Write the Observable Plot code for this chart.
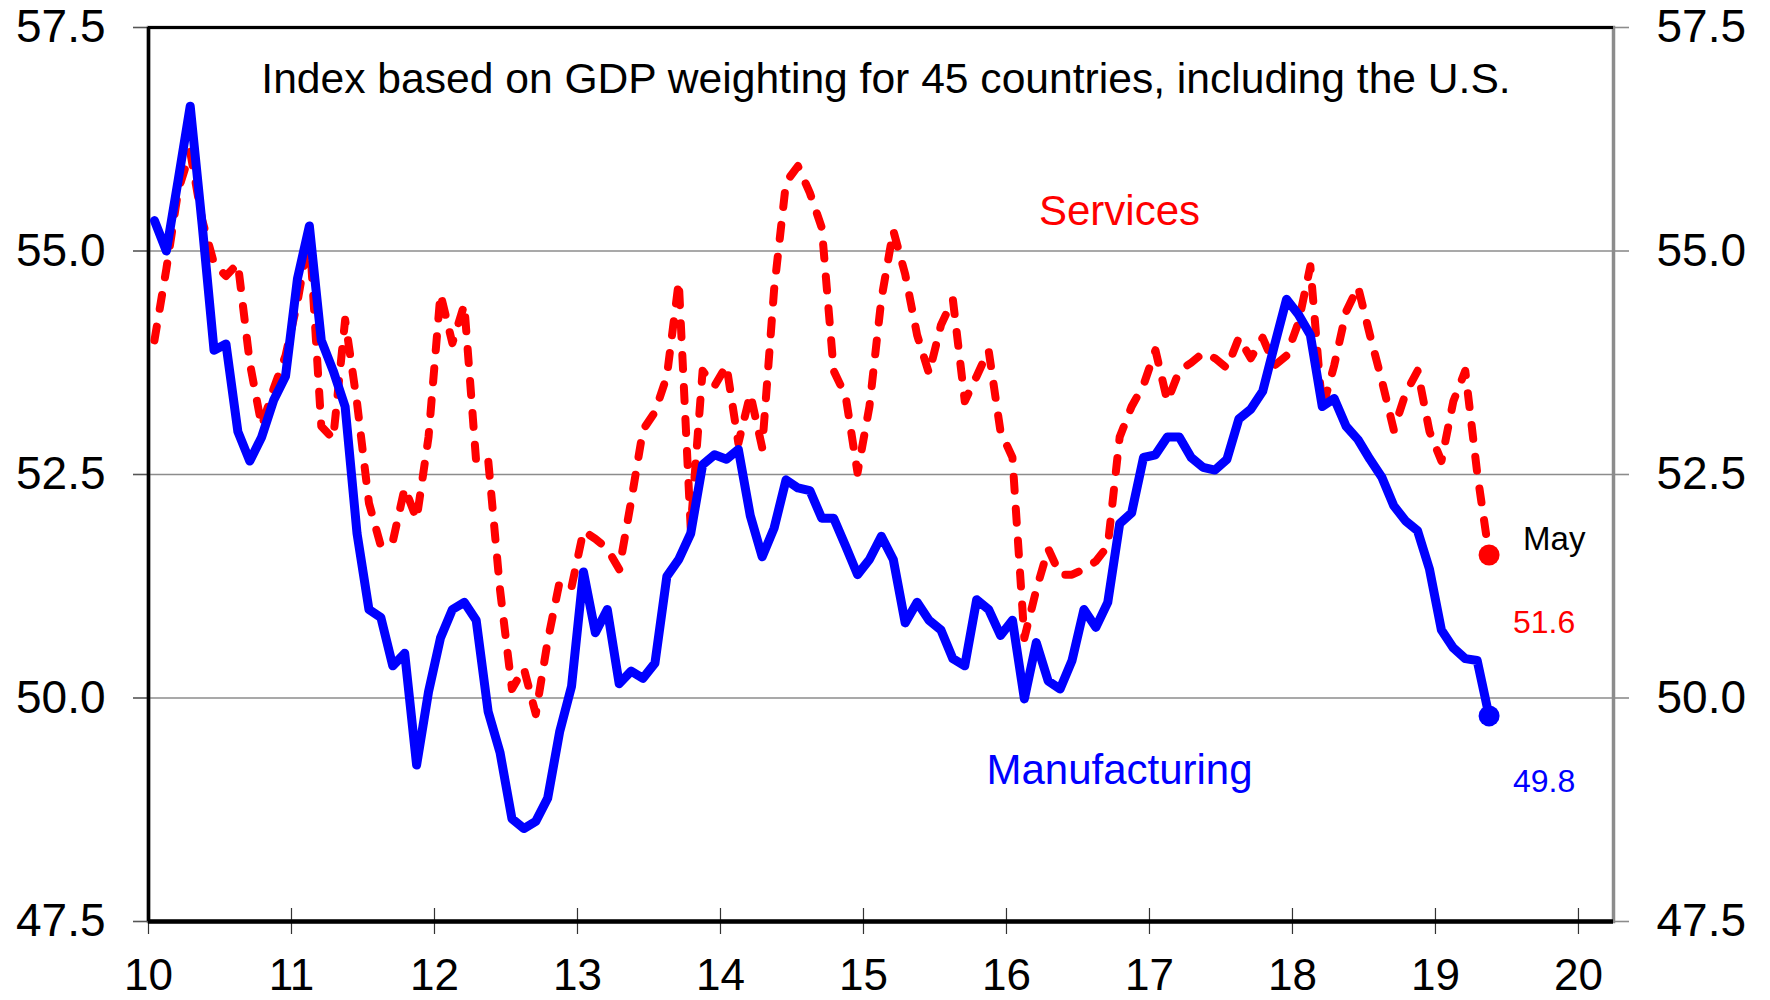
<!DOCTYPE html>
<html>
<head>
<meta charset="utf-8">
<script src="https://cdn.jsdelivr.net/npm/d3@7"></script>
<script src="https://cdn.jsdelivr.net/npm/@observablehq/plot@0.6"></script>
<style>
  html, body { margin: 0; padding: 0; background: #fff; }
  #chart { width: 1770px; height: 1000px; }
</style>
</head>
<body>
<div id="chart"></div>
<script>
// ---- Data (monthly, Jan 2010 .. May 2019) ----
const startYear = 2010;
const manufacturing = [
  55.34, 55.0, 55.8, 56.62, 55.3, 53.89, 53.96, 52.98, 52.65, 52.92, 53.33, 53.6,
  54.69, 55.28, 54.0, 53.66, 53.26, 51.84, 50.99, 50.9, 50.36, 50.5, 49.25, 50.07,
  50.67, 50.99, 51.07, 50.87, 49.85, 49.39, 48.65, 48.54, 48.62, 48.88, 49.62, 50.13,
  51.41, 50.73, 50.99, 50.16, 50.3, 50.22, 50.39, 51.36, 51.55, 51.84, 52.61, 52.72,
  52.67, 52.78, 52.04, 51.58, 51.9, 52.44, 52.35, 52.32, 52.01, 52.01, 51.7, 51.38,
  51.55, 51.81, 51.55, 50.84, 51.07, 50.87, 50.76, 50.44, 50.36, 51.1, 50.99, 50.7,
  50.87, 49.99, 50.62, 50.19, 50.1, 50.42, 50.99, 50.79, 51.07, 51.95, 52.07, 52.69,
  52.72, 52.92, 52.92, 52.69, 52.58, 52.55, 52.67, 53.12, 53.23, 53.43, 53.95, 54.46,
  54.29, 54.06, 53.26, 53.35, 53.04, 52.89, 52.67, 52.47, 52.15, 51.98, 51.87, 51.44,
  50.76, 50.56, 50.44, 50.42, 49.8
];
const services = [
  54.0, 54.8, 55.68, 56.11, 55.35, 54.86, 54.72, 54.86, 53.75, 53.04, 53.46, 53.83,
  54.43, 55.2, 53.04, 52.9, 54.23, 53.3, 52.18, 51.7, 51.75, 52.35, 52.0, 52.92,
  54.52, 53.97, 54.4, 52.64, 52.67, 51.21, 50.1, 50.33, 49.82, 50.64, 51.3, 51.24,
  51.87, 51.78, 51.67, 51.44, 52.2, 53.0, 53.2, 53.6, 54.66, 51.9, 53.66, 53.49,
  53.72, 52.85, 53.4, 52.8, 54.57, 55.77, 55.95, 55.65, 55.26, 53.66, 53.38, 52.52,
  53.26, 54.46, 55.23, 54.74, 54.06, 53.63, 54.17, 54.46, 53.32, 53.6, 53.89, 52.98,
  52.69, 50.67, 51.21, 51.67, 51.38, 51.38, 51.44, 51.53, 51.7, 52.92, 53.26, 53.5,
  53.89, 53.32, 53.66, 53.75, 53.86, 53.8, 53.69, 54.03, 53.8, 54.03, 53.72, 53.83,
  54.2, 54.83, 53.23, 53.72, 54.32, 54.6, 54.06, 53.55, 53.0, 53.41, 53.66, 52.98,
  52.65, 53.32, 53.66, 52.52, 51.6
];
const xTickValues = [2010, 2011, 2012, 2013, 2014, 2015, 2016, 2017, 2018, 2019, 2020];
const xTickLabels = ["10", "11", "12", "13", "14", "15", "16", "17", "18", "19", "20"];
const yTickValues = [47.5, 50, 52.5, 55, 57.5];
const titleText = "Index based on GDP weighting for 45 countries, including the U.S.";
const seriesNames = ["Manufacturing", "Services"];
const latestMonth = "May";

// ---- Build tables ----
const toRows = arr => arr.map((v, i) => ({ t: startYear + (i + 0.5) / 12, v }));
const mfgRows = toRows(manufacturing);
const svcRows = toRows(services);
const lastMfg = mfgRows[mfgRows.length - 1];
const lastSvc = svcRows[svcRows.length - 1];
const xLabel = new Map(xTickValues.map((v, i) => [v, xTickLabels[i]]));

const BLUE = "#0000FF", RED = "#FF0000", GRID = "#8c8c8c";
const FONT = "'Liberation Sans', Arial, Helvetica, sans-serif";

const chart = Plot.plot({
  width: 1770,
  height: 1000,
  marginLeft: 148,
  marginRight: 157,
  marginTop: 27,
  marginBottom: 79,
  style: { fontFamily: FONT, background: "white", color: "black", overflow: "visible" },
  x: { domain: [2010, 2020.245] },
  y: { domain: [47.5, 57.5] },
  marks: [
    Plot.gridY(yTickValues, { stroke: GRID, strokeOpacity: 1, strokeWidth: 1.6 }),
    Plot.frame({ stroke: GRID, strokeWidth: 3.5 }),
    // left axis
    Plot.axisY(yTickValues, {
      anchor: "left", tickSize: 15, tickPadding: 28, fontSize: 46,
      tickFormat: d3.format(".1f"), stroke: "#555", strokeWidth: 1.6, label: null
    }),
    // right axis
    Plot.axisY(yTickValues, {
      anchor: "right", tickSize: 15, tickPadding: 28, fontSize: 46,
      tickFormat: d3.format(".1f"), stroke: GRID, strokeWidth: 1.6, label: null
    }),
    // bottom axis (ticks below) + inner tick halves
    Plot.axisX(xTickValues, {
      anchor: "bottom", tickSize: 13, tickPadding: 24, fontSize: 44,
      tickFormat: d => xLabel.get(d), stroke: "#333", strokeWidth: 1.2, label: null
    }),
    Plot.tickX(xTickValues, { x: d => d, insetTop: 881, stroke: "#333", strokeWidth: 1.2 }),
    // black frame sides
    Plot.ruleX([xTickValues[0]], { stroke: "black", strokeWidth: 3.5 }),
    Plot.ruleY([yTickValues[0]], { stroke: "black", strokeWidth: 4.5 }),
    Plot.ruleY([yTickValues[yTickValues.length - 1]], { stroke: "black", strokeWidth: 3 }),
    // series
    Plot.lineY(svcRows, {
      x: "t", y: "v", stroke: RED, strokeWidth: 8,
      strokeDasharray: "14,18", strokeLinecap: "round", strokeLinejoin: "round"
    }),
    Plot.lineY(mfgRows, {
      x: "t", y: "v", stroke: BLUE, strokeWidth: 9,
      strokeLinecap: "round", strokeLinejoin: "round"
    }),
    Plot.dot([lastSvc], { x: "t", y: "v", r: 10.5, fill: RED }),
    Plot.dot([lastMfg], { x: "t", y: "v", r: 10.5, fill: BLUE }),
    // end labels
    Plot.text([lastSvc], {
      x: "t", y: "v", text: () => latestMonth, dx: 34, dy: -16,
      textAnchor: "start", fill: "black", fontSize: 33
    }),
    Plot.text([lastSvc], {
      x: "t", y: "v", text: d => d.v.toFixed(1), dx: 55, dy: 68,
      fill: RED, fontSize: 32
    }),
    Plot.text([lastMfg], {
      x: "t", y: "v", text: d => d.v.toFixed(1), dx: 55, dy: 66,
      fill: BLUE, fontSize: 32
    }),
    // title and series labels
    Plot.text([titleText], {
      frameAnchor: "top", dx: 5, dy: 52, lineAnchor: "middle",
      fill: "black", fontSize: 42.6
    }),
    Plot.text([seriesNames[1]], {
      frameAnchor: "top-left", dx: 971, dy: 184, lineAnchor: "middle",
      textAnchor: "middle", fill: RED, fontSize: 42
    }),
    Plot.text([seriesNames[0]], {
      frameAnchor: "top-left", dx: 971, dy: 743, lineAnchor: "middle",
      textAnchor: "middle", fill: BLUE, fontSize: 42
    })
  ]
});
document.getElementById("chart").appendChild(chart);
</script>
</body>
</html>
